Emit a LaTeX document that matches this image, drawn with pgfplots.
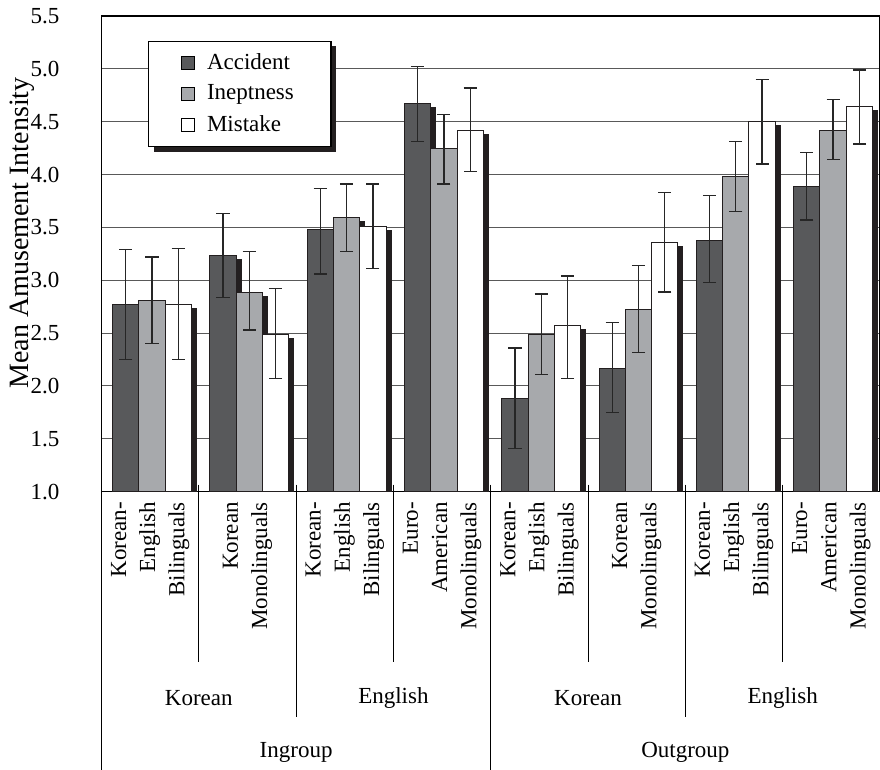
\documentclass[border=0pt]{standalone}
\usepackage{fontspec}
\setmainfont{Liberation Serif}
\usepackage{pgfplots}
\pgfplotsset{compat=1.18}
\usepackage{pgfplotstable}
\usetikzlibrary{shadows}

\makeatletter
\tikzset{noshadow/.code={\let\tikz@preactions\pgfutil@empty}}
\makeatother

\definecolor{accC}{HTML}{58595B}
\definecolor{inepC}{HTML}{A7A9AC}
\definecolor{shadC}{HTML}{231F20}

% x = group index, y = mean, ep/em = error bar up/down
\pgfplotstableread{
x y ep em
0 2.77 0.52 0.52
1 3.23 0.40 0.39
2 3.48 0.39 0.42
3 4.67 0.35 0.36
4 1.88 0.48 0.47
5 2.17 0.43 0.42
6 3.38 0.42 0.40
7 3.89 0.32 0.32
}\acc
\pgfplotstableread{
x y ep em
0 2.81 0.41 0.41
1 2.88 0.39 0.35
2 3.59 0.32 0.32
3 4.25 0.32 0.34
4 2.49 0.38 0.38
5 2.72 0.42 0.40
6 3.98 0.33 0.33
7 4.42 0.29 0.28
}\inep
\pgfplotstableread{
x y ep em
0 2.77 0.53 0.52
1 2.49 0.43 0.42
2 3.51 0.40 0.40
3 4.42 0.40 0.39
4 2.57 0.47 0.50
5 3.36 0.47 0.47
6 4.50 0.40 0.40
7 4.64 0.35 0.35
}\mis

\begin{document}
\fontsize{11.5}{14.6}\selectfont
\begin{tikzpicture}
\begin{axis}[
  at={(0,0)}, anchor=south west,
  scale only axis, width=389.25pt, height=237.85pt,
  xmin=-0.5, xmax=7.5, ymin=1, ymax=5.5,
  xtick=\empty,
  ytick={1,1.5,2,2.5,3,3.5,4,4.5,5,5.5},
  yticklabel style={xshift=-17pt, /pgf/number format/.cd, fixed, fixed zerofill, precision=1, assume math mode=true},
  major tick length=0pt,
  ymajorgrids,
  grid style={draw=black!65, line width=0.5pt},
  axis line style={line width=0.75pt},
  clip mode=individual,
  ybar, bar width=13.15pt,
  legend style={at={(0.060,0.948)}, anchor=north west, draw=black, line width=0.6pt,
    fill=white, inner xsep=0pt, inner ysep=4pt, row sep=2pt,
    drop shadow={shadow xshift=2.5pt, shadow yshift=-2.5pt, fill=shadC, opacity=1}},
  legend cell align=left,
]
\addplot[fill=accC, draw=shadC, line width=0.5pt, bar shift=-12.25pt,
  drop shadow={shadow xshift=2.5pt, shadow yshift=-2pt, fill=shadC, opacity=1},
  legend image code/.code={\path[noshadow] (0pt,0pt); \draw[noshadow, fill=accC, draw=black, line width=0.5pt] (16pt,-3.3pt) rectangle (22.6pt,3.3pt);},
  error bars/.cd, y dir=both, y explicit,
  error bar style={line width=0.65pt, draw=black!85},
  error mark options={rotate=90, mark size=3.3pt, line width=0.65pt, draw=black!85}]
  table[x=x, y=y, y error plus=ep, y error minus=em]{\acc};
\addlegendentry{\makebox[64pt][l]{\hspace{4pt}Accident}}
\addplot[fill=inepC, draw=shadC, line width=0.5pt, bar shift=0.9pt,
  drop shadow={shadow xshift=2.5pt, shadow yshift=-2pt, fill=shadC, opacity=1},
  legend image code/.code={\path[noshadow] (0pt,0pt); \draw[noshadow, fill=inepC, draw=black, line width=0.5pt] (16pt,-3.3pt) rectangle (22.6pt,3.3pt);},
  error bars/.cd, y dir=both, y explicit,
  error bar style={line width=0.65pt, draw=black!85},
  error mark options={rotate=90, mark size=3.3pt, line width=0.65pt, draw=black!85}]
  table[x=x, y=y, y error plus=ep, y error minus=em]{\inep};
\addlegendentry{\makebox[64pt][l]{\hspace{4pt}Ineptness}}
\addplot[fill=white, draw=shadC, line width=0.5pt, bar shift=14.05pt,
  drop shadow={shadow xshift=2.5pt, shadow yshift=-2pt, fill=shadC, opacity=1},
  legend image code/.code={\path[noshadow] (0pt,0pt); \draw[noshadow, fill=white, draw=black, line width=0.5pt] (16pt,-3.3pt) rectangle (22.6pt,3.3pt);},
  error bars/.cd, y dir=both, y explicit,
  error bar style={line width=0.65pt, draw=black!85},
  error mark options={rotate=90, mark size=3.3pt, line width=0.65pt, draw=black!85}]
  table[x=x, y=y, y error plus=ep, y error minus=em]{\mis};
\addlegendentry{\makebox[64pt][l]{\hspace{4pt}Mistake}}

% y label
\node[rotate=90, font=\fontsize{14}{16}\selectfont] at ([xshift=-39.75pt]rel axis cs:0,0.544) {Mean Amusement Intensity};

% separators below the axis
\pgfplotsinvokeforeach{0.5,2.5,4.5,6.5}{
  \draw[line width=0.5pt] ([yshift=3.5pt]axis cs:#1,1) -- ([yshift=-85pt]axis cs:#1,1);
}
\pgfplotsinvokeforeach{1.5,5.5}{
  \draw[line width=0.5pt] ([yshift=3.5pt]axis cs:#1,1) -- ([yshift=-112.5pt]axis cs:#1,1);
}
\draw[line width=0.5pt] ([yshift=3.5pt]axis cs:3.5,1) -- ([yshift=-139.2pt]axis cs:3.5,1);
\draw[line width=0.75pt] (axis cs:-0.5,1) -- ([yshift=-139.2pt]axis cs:-0.5,1);

% group labels
\node[rotate=90, anchor=east, align=right, inner sep=0pt] at ([yshift=-5pt]axis cs:0,1) {Korean-\\English\\Bilinguals};
\node[rotate=90, anchor=east, align=right, inner sep=0pt] at ([yshift=-5pt]axis cs:1,1) {Korean\\Monolinguals};
\node[rotate=90, anchor=east, align=right, inner sep=0pt] at ([yshift=-5pt]axis cs:2,1) {Korean-\\English\\Bilinguals};
\node[rotate=90, anchor=east, align=right, inner sep=0pt] at ([yshift=-5pt]axis cs:3,1) {Euro-\\American\\Monolinguals};
\node[rotate=90, anchor=east, align=right, inner sep=0pt] at ([yshift=-5pt]axis cs:4,1) {Korean-\\English\\Bilinguals};
\node[rotate=90, anchor=east, align=right, inner sep=0pt] at ([yshift=-5pt]axis cs:5,1) {Korean\\Monolinguals};
\node[rotate=90, anchor=east, align=right, inner sep=0pt] at ([yshift=-5pt]axis cs:6,1) {Korean-\\English\\Bilinguals};
\node[rotate=90, anchor=east, align=right, inner sep=0pt] at ([yshift=-5pt]axis cs:7,1) {Euro-\\American\\Monolinguals};

\node at ([yshift=-103.2pt]axis cs:0.5,1) {Korean};
\node at ([yshift=-103.2pt]axis cs:2.5,1) {English};
\node at ([yshift=-103.2pt]axis cs:4.5,1) {Korean};
\node at ([yshift=-103.2pt]axis cs:6.5,1) {English};
\node at ([yshift=-130.2pt]axis cs:1.5,1) {Ingroup};
\node at ([yshift=-130.2pt]axis cs:5.5,1) {Outgroup};
\end{axis}
\pgfresetboundingbox
\path[use as bounding box] (-50.75pt,-139.15pt) rectangle (389.25pt,245.85pt);
\end{tikzpicture}
\end{document}
